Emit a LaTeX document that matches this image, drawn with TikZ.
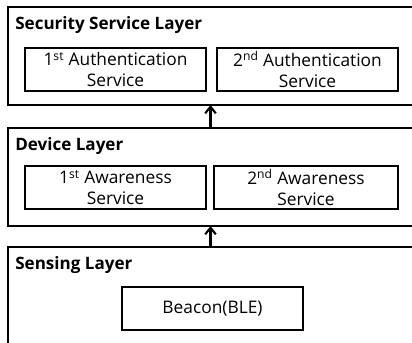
\documentclass[tikz,border=0pt]{standalone}
\usepackage{fontspec}
\setmainfont{Open Sans}
\usetikzlibrary{arrows.meta,positioning}

\begin{document}
\begin{tikzpicture}[x=0.75pt,y=-0.75pt]

    \tikzset{
      layer/.style={
        draw,
        line width=1.7pt,
        anchor=north west,
        inner sep=0pt,
        outer sep=0pt,
        minimum width=303.75pt,
      },
      service/.style={
        draw,
        line width=1.2pt,
        anchor=north west,
        inner sep=0pt,
        outer sep=0pt,
        minimum width=135.75pt,
        minimum height=32.25pt,
        align=center,
        font=\fontsize{13}{15.5}\selectfont,
      },
      title/.style={
        anchor=base west,
        inner sep=0pt,
        font=\fontsize{12.8}{14}\selectfont\bfseries,
      },
      up/.style={
        line width=1.6pt,
        -{Straight Barb[length=5pt,width=8pt,line width=1.6pt]},
      },
    }
    \useasboundingbox (0,0) rectangle (412,343);
    \clip (0,0) rectangle (412,343);

	% layers
	\node[layer,minimum height=73.5pt] (sec) at (8,7) {};
	\node[layer,minimum height=73.5pt] (dev) at (8,128) {};
	\node[layer,minimum height=90pt] (sen) at (8,247) {};

	\node[title] (secT) at (15,29) {Security Service Layer};
	\node[title] (devT) at (15,150) {Device Layer};
	\node[title] (senT) at (15,269) {Sensing Layer};

	% services
	\node[service] (auth1) at (25,48) {1\textsuperscript{st} Authentication\\Service};
	\node[service] (auth2) at (217,48) {2\textsuperscript{nd} Authentication\\Service};
	\node[service] (aware1) at (25,166) {1\textsuperscript{st} Awareness\\Service};
	\node[service,minimum width=138pt] (aware2) at (214,166) {2\textsuperscript{nd} Awareness\\Service};
	\node[service] (ble) at (122,287) {Beacon(BLE)};

	\draw[up] (dev.north) -- (sec.south);
	\draw[up] (sen.north) -- (dev.south);

\end{tikzpicture}
\end{document}
